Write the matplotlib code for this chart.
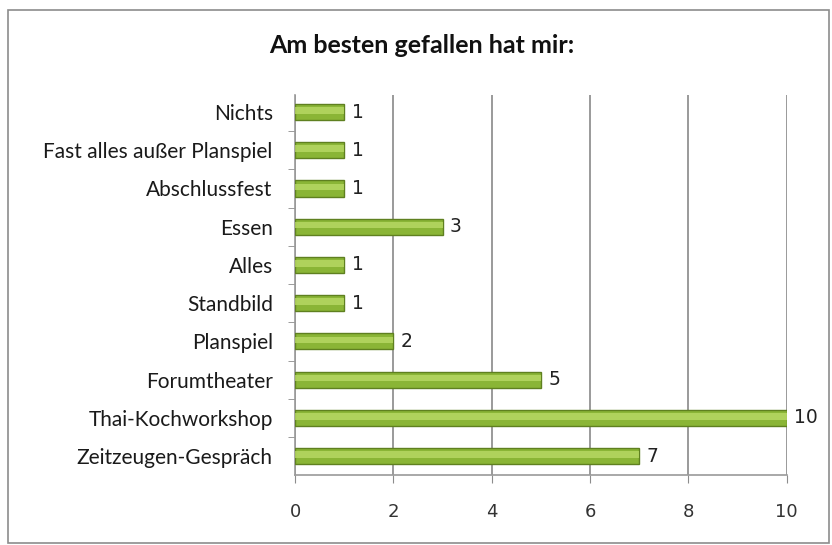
import matplotlib
matplotlib.use("Agg")
import matplotlib.pyplot as plt
from matplotlib.patches import Rectangle

categories = ["Nichts", "Fast alles außer Planspiel", "Abschlussfest", "Essen", "Alles",
              "Standbild", "Planspiel", "Forumtheater", "Thai-Kochworkshop", "Zeitzeugen-Gespräch"]
values = [1, 1, 1, 3, 1, 1, 2, 5, 10, 7]
xticks = [0, 2, 4, 6, 8, 10]
title = "Am besten gefallen hat mir:"

plt.rcParams["font.family"] = ["Lato", "DejaVu Sans"]

fig = plt.figure(figsize=(8.32, 5.45), dpi=100)
fig.patches.append(Rectangle((0.010, 0.004), 0.986, 0.978, transform=fig.transFigure,
                             fill=False, edgecolor="#8c8c8c", linewidth=1.2))
ax = fig.add_axes([0.3546, 0.128, 0.591, 0.698])

pos = list(range(len(categories)))
ax.barh(pos, values, height=0.42, color="#8ab536", edgecolor="#5f8020", linewidth=1.0, zorder=3)
# lighter band to hint at the rounded bar look
ax.barh([p - 0.04 for p in pos], values, height=0.17, color="#bcdc6a", alpha=0.75,
        linewidth=0, zorder=4)

for p, v in zip(pos, values):
    ax.text(v + 0.15, p, str(v), va="center", ha="left", fontsize=13.5, color="#222222",
            family="DejaVu Sans")

ax.set_xlim(0, 10)
ax.set_ylim(9.5, -0.45)
ax.set_xticks(xticks)
ax.set_xticklabels([str(t) for t in xticks], fontsize=13, family="DejaVu Sans", color="#333333")
ax.set_yticks(pos)
ax.set_yticklabels(categories, fontsize=15, color="#1a1a1a")
ax.tick_params(axis="y", length=0, pad=16)
ax.tick_params(axis="x", length=6, color="#8c8c8c", pad=14)
ax.set_yticks([p + 0.5 for p in pos[:-1]], minor=True)
ax.tick_params(axis="y", which="minor", length=5, color="#8c8c8c")

ax.grid(axis="x", color="#7f7f7f", linewidth=1.1, zorder=0)
for s in ["top", "right"]:
    ax.spines[s].set_visible(False)
for s in ["left", "bottom"]:
    ax.spines[s].set_color("#9a9a9a")
    ax.spines[s].set_linewidth(1.2)

fig.text(0.507, 0.917, title, ha="center", va="center", fontsize=18, fontweight="bold",
         color="#111111")

fig.savefig("out.png", dpi=100)
